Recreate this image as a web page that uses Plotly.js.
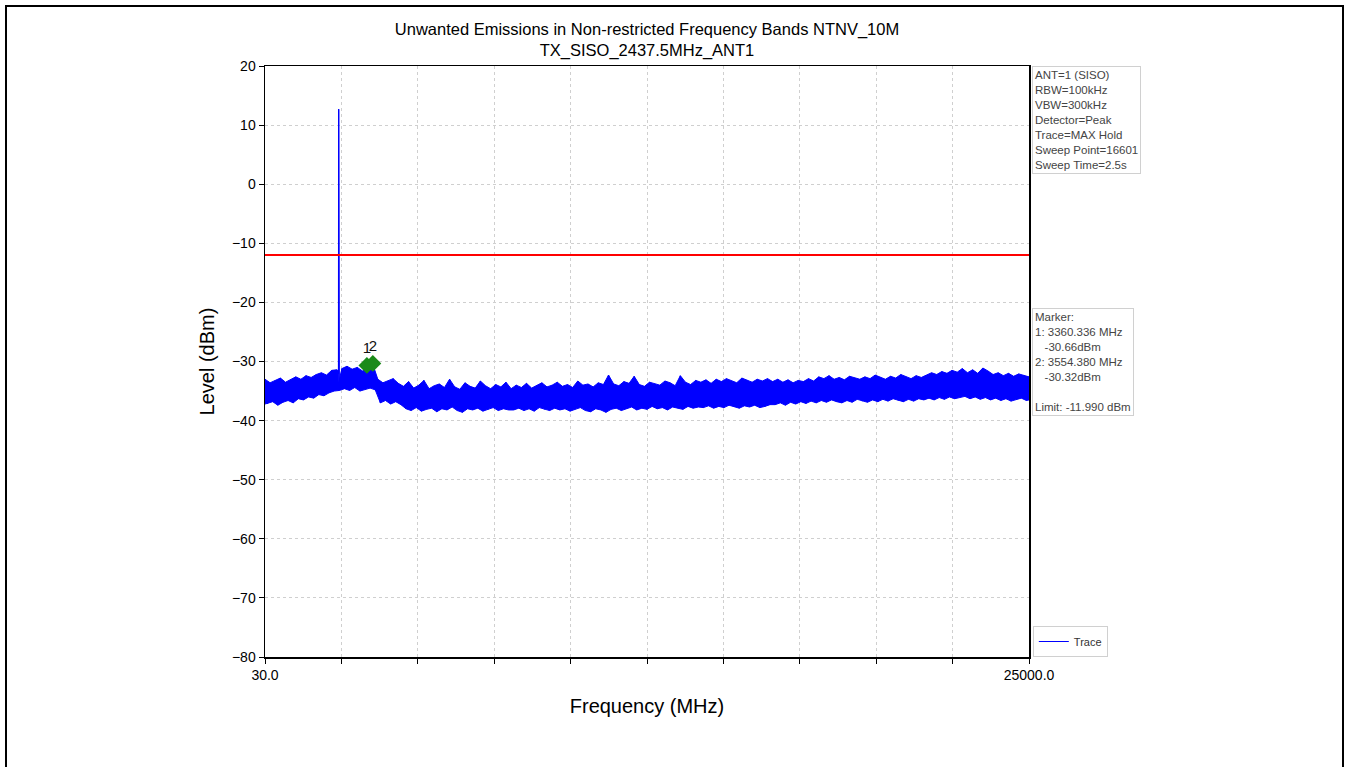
<!DOCTYPE html>
<html>
<head>
<meta charset="utf-8">
<script src="https://cdn.plot.ly/plotly-3.0.1.min.js"></script>
<style>
  html, body { margin: 0; padding: 0; background: #fff; overflow: hidden; }
  #chart { width: 1348px; height: 767px; }
  #frame { position: absolute; left: 5px; top: 5px; width: 1335px; height: 800px;
           border: 2px solid #000; border-bottom: none; pointer-events: none; }
</style>
</head>
<body>
<div id="chart"></div>
<div id="frame"></div>
<script>
// ---- sweep settings ----
const startMHz = 30.0;
const stopMHz = 25000.0;
const limitDbm = -11.990;

// ---- trace envelope (upper / lower edge of the noise band, dBm) ----
const traceHigh = [
  -33.0,-33.6,-33.2,-32.8,-33.5,-33.1,-32.6,-33.0,-32.4,-32.7,-32.2,-31.9,-32.3,-31.5,-31.4,
  -31.2,-30.8,-31.3,-31.0,-31.6,-30.9,-30.4,
  -33.0,-33.6,-33.3,-32.9,-33.7,
  -34.2,-33.4,-34.5,-34.0,-33.2,-34.6,-34.1,-33.8,-34.4,-33.0,-34.3,-34.7,-33.6,-34.2,-34.5,-33.3,-34.1,-34.6,-33.9,-34.3,-33.5,
  -34.6,-34.0,-34.4,-33.7,-34.5,-34.1,-33.6,-34.3,-34.0,-33.5,-34.2,-33.9,-34.4,-33.3,-34.0,-33.8,-34.3,-33.6,-33.9,
  -32.3,
  -33.8,-34.1,-33.4,-33.7,-32.5,-33.9,-34.2,-33.5,-33.8,-34.0,-33.3,-33.6,-34.1,-32.4,-33.5,-33.9,-33.2,
  -33.5,-33.1,-33.7,-33.0,-33.4,-32.9,-33.3,-33.6,-32.8,-33.2,-33.5,-33.0,-33.3,-32.9,
  -33.4,-33.0,-33.5,-33.1,-33.6,-33.2,-33.4,-32.9,-33.3,-32.6,
  -32.9,-32.4,-33.0,-32.7,-33.1,-32.5,-32.8,-33.0,-32.6,-32.9,
  -32.3,-32.7,-33.0,-32.5,-32.8,-32.2,-32.6,-32.9,-32.4,-32.7,
  -32.3,-31.9,-32.2,-31.7,-32.0,-31.5,-31.8,-31.2,-31.9,-31.4,
  -32.0,-31.1,-31.6,-32.2,-31.9,-32.4,-32.0,-32.5,-32.1,-32.3,
  -32.6
];
const traceLow = [
  -37.2,-36.8,-37.4,-36.9,-36.6,-37.0,-36.3,-36.5,-36.0,-36.2,-35.6,-35.8,-35.3,-35.0,-34.9,
  -34.6,-34.9,-34.4,-35.0,-34.7,-34.5,-34.8,
  -37.0,-36.6,-37.2,-36.8,-37.3,
  -38.0,-38.3,-37.8,-38.4,-38.1,-37.9,-38.5,-38.0,-38.2,-37.7,-38.3,-38.6,-38.0,-38.2,-37.9,-38.4,-38.1,-37.8,-38.3,-38.0,-38.2,
  -38.2,-37.9,-38.3,-38.0,-38.4,-37.8,-38.1,-38.3,-37.9,-38.2,-38.0,-38.4,-38.1,-37.8,-38.3,-38.5,-38.0,-38.2,-38.6,
  -38.1,-37.9,-38.3,-38.0,-37.7,-38.2,-37.9,-38.1,-37.6,-38.0,-37.8,-38.2,-37.7,-37.9,-38.1,-37.6,-37.9,-37.7,
  -37.8,-37.5,-37.9,-37.6,-37.8,-37.4,-37.7,-37.9,-37.5,-37.7,-37.4,-37.8,-37.6,-37.3,
  -37.3,-37.0,-37.4,-36.9,-37.2,-36.8,-37.1,-36.7,-37.0,-36.6,
  -36.9,-36.5,-36.8,-37.0,-36.6,-36.9,-36.4,-36.7,-36.9,-36.5,
  -36.8,-36.4,-36.7,-36.3,-36.6,-36.8,-36.4,-36.7,-36.3,-36.5,
  -36.2,-36.5,-36.1,-36.4,-36.0,-36.3,-36.1,-35.9,-36.3,-36.0,
  -36.4,-36.1,-36.5,-36.2,-36.6,-36.3,-36.7,-36.4,-36.2,-36.6,
  -36.5
];

// ---- carrier spike ----
const spikeFreq = [2432.0, 2437.5, 2443.0];
const spikeLevel = [-32.0, 12.7, -33.5];

// ---- markers ----
const markerNames = ['1', '2'];
const markerFreq = [3360.336, 3554.380];
const markerLevel = [-30.66, -30.32];

// ---- axis ticks ----
const xTickCount = 11;
const yTicks = [-80, -70, -60, -50, -40, -30, -20, -10, 0, 10, 20];

// ---- info boxes ----
const settingLines = ['ANT=1 (SISO)', 'RBW=100kHz', 'VBW=300kHz', 'Detector=Peak',
  'Trace=MAX Hold', 'Sweep Point=16601', 'Sweep Time=2.5s'];

// build the sweep: the envelope samples are spread evenly over the sweep span
const n = Math.min(traceHigh.length, traceLow.length);
const stepMHz = (stopMHz - startMHz) / (n - 1);
let hiPts = [], loPts = [], allPts = [];
for (let i = 0; i < n; i++) {
  const xh = startMHz + i * stepMHz;
  const xl = Math.min(stopMHz, startMHz + (i + 0.5) * stepMHz);
  hiPts.push([xh, traceHigh[i]]);
  loPts.push([xl, traceLow[i]]);
  allPts.push([xh, traceHigh[i]]);
  allPts.push([xl, traceLow[i]]);
}
for (let k = 0; k < spikeFreq.length; k++) {
  hiPts.push([spikeFreq[k], spikeLevel[k]]);
  allPts.push([spikeFreq[k], spikeLevel[k]]);
}
hiPts.sort((a, b) => a[0] - b[0]);
allPts.sort((a, b) => a[0] - b[0]);
loPts[0][0] = startMHz;

const xTickVals = [];
const xTickText = [];
for (let i = 0; i < xTickCount; i++) {
  const v = startMHz + i * (stopMHz - startMHz) / (xTickCount - 1);
  xTickVals.push(v);
  xTickText.push(i === 0 ? startMHz.toFixed(1) : (i === xTickCount - 1 ? stopMHz.toFixed(1) : ''));
}

const markerText = ['Marker:'];
for (let k = 0; k < markerNames.length; k++) {
  markerText.push(markerNames[k] + ': ' + markerFreq[k].toFixed(3) + ' MHz');
  markerText.push('&nbsp;&nbsp;&nbsp;' + markerLevel[k].toFixed(2) + 'dBm');
}
markerText.push('');
markerText.push('Limit: ' + limitDbm.toFixed(3) + ' dBm');

const FONT = 'Arial, "Liberation Sans", sans-serif';
const BLUE = '#0000ff';

const data = [
  { x: loPts.map(p => p[0]), y: loPts.map(p => p[1]), type: 'scatter', mode: 'lines',
    showlegend: false, line: { color: BLUE, width: 1 } },
  { x: hiPts.map(p => p[0]), y: hiPts.map(p => p[1]), type: 'scatter', mode: 'lines',
    showlegend: false, fill: 'tonexty', fillcolor: BLUE, line: { color: BLUE, width: 1 } },
  { x: allPts.map(p => p[0]), y: allPts.map(p => p[1]), type: 'scatter', mode: 'lines', name: 'Trace',
    line: { color: BLUE, width: 1.2 } },
  { x: [startMHz, stopMHz], y: [limitDbm, limitDbm], type: 'scatter', mode: 'lines',
    showlegend: false, line: { color: '#ff0000', width: 2 } },
  { x: markerFreq, y: markerLevel, type: 'scatter', mode: 'markers+text',
    text: markerNames, textposition: 'top center', showlegend: false,
    textfont: { family: FONT, size: 15, color: '#111' },
    marker: { symbol: 'diamond', size: 13, color: '#1a8a1a' } }
];

const axisCommon = {
  showline: true, linecolor: '#000', linewidth: 1.5, mirror: true,
  ticks: 'outside', ticklen: 5, tickcolor: '#000', tickwidth: 1,
  showgrid: true, gridcolor: '#cfcfcf', gridwidth: 1, griddash: '3px,3px',
  zeroline: false, tickfont: { family: FONT, size: 14, color: '#000' }
};

const layout = {
  width: 1348, height: 767,
  paper_bgcolor: '#fff', plot_bgcolor: '#fff',
  margin: { l: 265, r: 319, t: 66, b: 110 },
  title: { text: 'Unwanted Emissions in Non-restricted Frequency Bands NTNV_10M<br>TX_SISO_2437.5MHz_ANT1',
           font: { family: FONT, size: 16.5, color: '#000' },
           xref: 'paper', x: 0.5, xanchor: 'center',
           yref: 'container', y: 0.9545, yanchor: 'middle' },
  xaxis: Object.assign({}, axisCommon, {
    range: [startMHz, stopMHz], tickmode: 'array', tickvals: xTickVals, ticktext: xTickText,
    title: { text: 'Frequency (MHz)', font: { family: FONT, size: 20, color: '#000' }, standoff: 16 }
  }),
  yaxis: Object.assign({}, axisCommon, {
    range: [-80, 20], tickmode: 'array', tickvals: yTicks,
    title: { text: 'Level (dBm)', font: { family: FONT, size: 20, color: '#000' }, standoff: 12 }
  }),
  showlegend: true,
  legend: { x: 1.005, y: 0, xanchor: 'left', yanchor: 'bottom',
            bordercolor: '#d0d0d0', borderwidth: 1, bgcolor: '#fff',
            font: { family: FONT, size: 11, color: '#333' } },
  annotations: [
    { xref: 'paper', yref: 'paper', x: 1.004, y: 1.0, xanchor: 'left', yanchor: 'top',
      text: settingLines.join('<br>'), align: 'left', showarrow: false,
      font: { family: FONT, size: 11.5, color: '#444' },
      bordercolor: '#d0d0d0', borderwidth: 1, borderpad: 2, bgcolor: '#fff' },
    { xref: 'paper', yref: 'paper', x: 1.004, y: 0.59, xanchor: 'left', yanchor: 'top',
      text: markerText.join('<br>'), align: 'left', showarrow: false,
      font: { family: FONT, size: 11.5, color: '#444' },
      bordercolor: '#d0d0d0', borderwidth: 1, borderpad: 2, bgcolor: '#fff' }
  ]
};

Plotly.newPlot('chart', data, layout, { displayModeBar: false, staticPlot: true });
</script>
</body>
</html>
